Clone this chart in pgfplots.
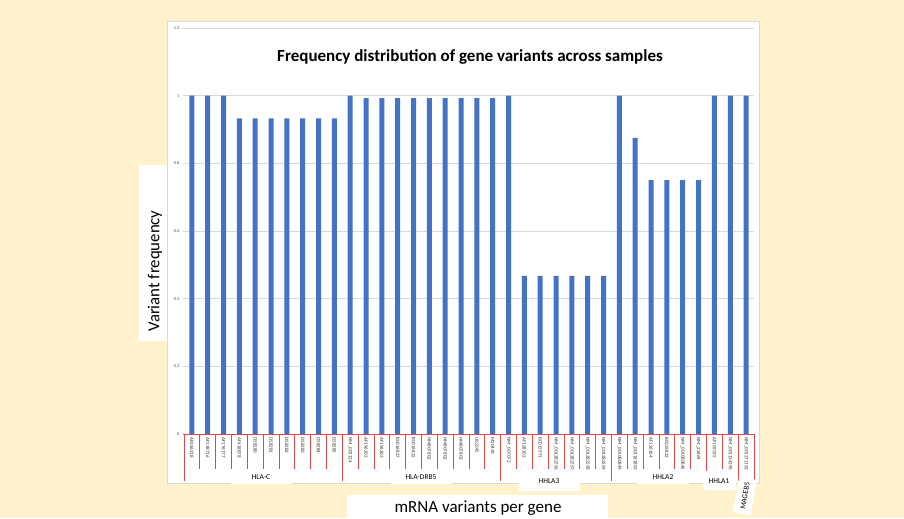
\documentclass[border=0pt]{standalone}
\usepackage{pgfplots}
\pgfplotsset{compat=1.18}
\usepackage{fontspec}
\setmainfont{Carlito}
\definecolor{bgyel}{HTML}{FFF2CC}
\definecolor{barblue}{HTML}{4472C4}
\definecolor{gridgray}{HTML}{D9D9D9}
\definecolor{sepred}{HTML}{E04848}
\definecolor{ticktext}{HTML}{595959}

\begin{document}
\begin{tikzpicture}
% page 904x518 pt; axis box lower-left sits at the origin
\fill[bgyel] (-183pt,-84pt) rectangle (721pt,434pt);
\filldraw[fill=white, draw=gridgray] (-16pt,-49pt) rectangle (576pt,413pt);
\fill[white] (-44pt,93pt) rectangle (-16pt,269pt);
\fill[white] (164pt,-84pt) rectangle (425pt,-61pt);
\node[rotate=90, font=\fontsize{16.8}{18}\selectfont] at (-28pt,163pt) {Variant frequency};
\node[font=\fontsize{17}{18}\selectfont] at (295pt,-74pt) {mRNA variants per gene};

\begin{axis}[
    scale only axis,
    width = 571pt,
    height = 406pt,
    ybar,
    bar width = 5pt,
    enlargelimits = false,
    xmin = -0.56, xmax = 35.5,
    ymin = 0, ymax = 1.2,
    axis x line* = bottom,
    axis y line* = left,
    x axis line style = {sepred, line width=0.8pt},
    y axis line style = {draw=none},
    tick align = outside,
    ytick = {0,0.2,0.4,0.6,0.8,1,1.2},
    major tick length = 0pt,
    ymajorgrids,
    grid style = {gridgray, line width=0.8pt},
    yticklabel style = {font=\fontsize{4.5}{5}\selectfont, text=ticktext},
    /pgf/number format/assume math mode=true,
    xtick = {0,...,35},
    xticklabels = {AF026218,AF138716,AF176177,AF418878,D58280,D58281,D58282,D58283,D58284,D58285,
        NM\_002124,AF196302,AF196303,BC016827,BC016822,HM807802,HM807802,HM807803,U02345,M20430,
        NM\_007072,AF128102,BC015971,NM\_001282556,NM\_001282557,NM\_001282558,NM\_001282559,
        NM\_001080849,NM\_001161853,AF126164,BC033822,NM\_001080846,NM\_22464,
        AF103335,NM\_001134295,NM\_001271152},
    xticklabel style = {rotate=-90, anchor=west, font=\fontsize{5}{5.5}\selectfont, text=black!80},
    minor xtick = {0.5,1.5,2.5,3.5,4.5,5.5,6.5,7.5,8.5,10.5,11.5,12.5,13.5,14.5,15.5,16.5,17.5,18.5,
        20.5,21.5,22.5,23.5,24.5,25.5,27.5,28.5,29.5,30.5,31.5,33.5},
    minor tick length = 35pt,
    minor x tick style = {sepred, line width=0.7pt},
    extra x ticks = {-0.5,9.5,19.5,26.5,32.5,34.5,35.5},
    extra x tick labels = {},
    extra x tick style = {major tick length=47pt, tick style={sepred, line width=0.7pt}},
]
\addplot[fill=barblue, draw=none] coordinates {
    (0,1) (1,1) (2,1) (3,0.933) (4,0.933) (5,0.933) (6,0.933) (7,0.933) (8,0.933) (9,0.933)
    (10,1) (11,0.993) (12,0.993) (13,0.993) (14,0.993) (15,0.993) (16,0.993) (17,0.993) (18,0.993) (19,0.993)
    (20,1) (21,0.467) (22,0.467) (23,0.467) (24,0.467) (25,0.467) (26,0.467)
    (27,1) (28,0.875) (29,0.75) (30,0.75) (31,0.75) (32,0.75)
    (33,1) (34,1) (35,1)
};
\end{axis}

\node[font=\bfseries\fontsize{17}{19}\selectfont] at (287pt,377pt) {Frequency distribution of gene variants across samples};

% group labels
\tikzset{grp/.style={fill=white, inner sep=0pt, font=\fontsize{7.5}{8}\selectfont}}
\node[grp, minimum width=61pt, minimum height=14pt] at (78pt,-43pt) {HLA-C};
\node[grp, minimum width=61pt, minimum height=14pt] at (238pt,-43pt) {HLA-DRB5};
\node[grp, minimum width=61pt, minimum height=20pt] at (366pt,-47pt) {HHLA3};
\node[grp, minimum width=52pt, minimum height=15pt] at (480pt,-43pt) {HHLA2};
\node[grp, minimum width=33pt, minimum height=19pt] at (536pt,-47pt) {HHLA1};
\node[grp, rotate=80, minimum width=36pt, minimum height=18pt] at (562pt,-62pt) {MAGEB5};
\end{tikzpicture}
\end{document}
